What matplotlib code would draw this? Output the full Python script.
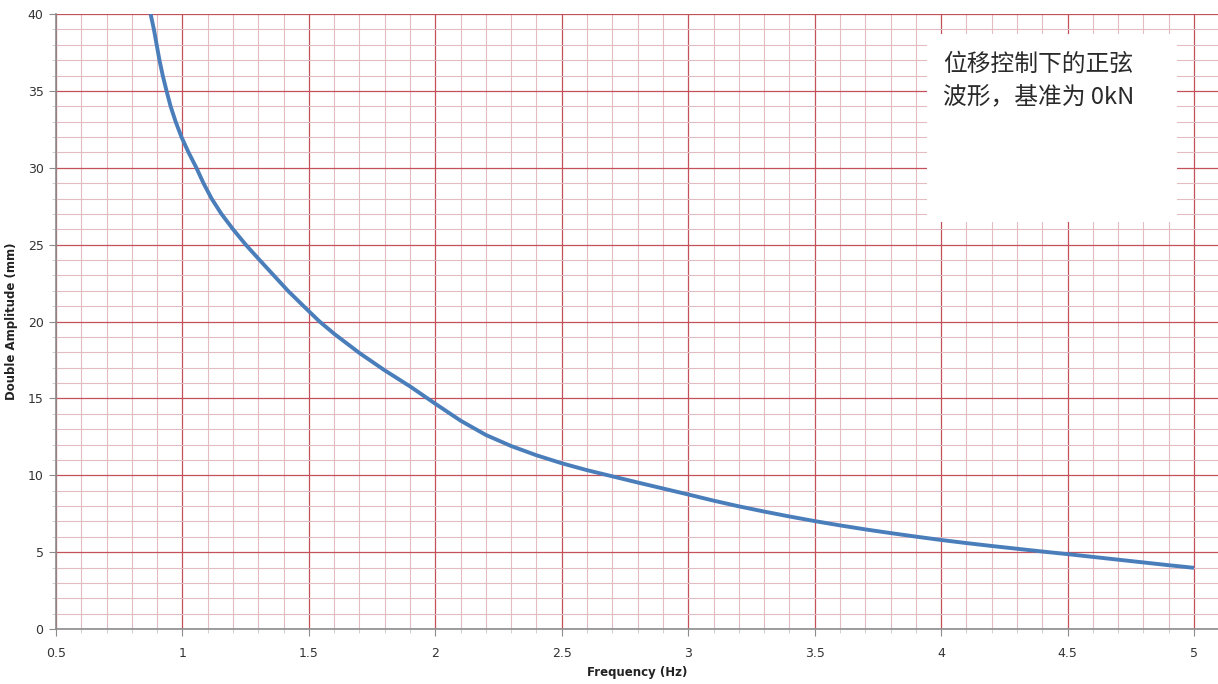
import numpy as np
import matplotlib as mpl
import matplotlib.pyplot as plt
from matplotlib.ticker import MultipleLocator
from matplotlib.patches import Rectangle

# Curve values
freq=[0.874,0.887,0.898,0.909,0.922,0.937,0.953,0.973,0.996,1.024,1.055,1.083,
      1.115,1.154,1.2,1.25,1.305,1.361,1.417,1.479,1.542,1.6,1.7,1.8,1.9,
      2.0,2.1,2.2,2.3,2.4,2.5,2.6,2.7,2.8,2.9,3.0,3.1,3.2,3.3,3.4,3.5,
      3.6,3.7,3.8,3.9,4.0,4.1,4.2,4.3,4.4,4.5,4.6,4.7,4.8,4.9,5.0]
amp=[40,39,38,37,36,35,34,33,32,31,30,29,
     28,27,26,25,24,23,22,21,20,19.2,17.95,16.82,15.78,
     14.65,13.55,12.62,11.9,11.3,10.78,10.33,9.93,9.53,9.14,8.75,8.35,7.98,7.64,7.32,7.02,
     6.74,6.48,6.24,6.01,5.79,5.59,5.40,5.22,5.04,4.87,4.69,4.51,4.33,4.15,3.98]

xticks=[0.5,1,1.5,2,2.5,3,3.5,4,4.5,5]
xticklbs=['0.5','1','1.5','2','2.5','3','3.5','4','4.5','5']
yticks=[0,5,10,15,20,25,30,35,40]
note='位移控制下的正弦\n波形，基准为 0kN'

mpl.rc('xtick',labelsize=9)
mpl.rc('ytick',labelsize=9)
majclr='#c4505a'; minclr='#e3bcc1'; spclr='#8c8c8c'

fig=plt.figure(figsize=(12.18,6.84),dpi=100)
ax=fig.add_axes([0.046,0.0804,0.954,0.8991])
ax.set_xlim(0.5,5.095)
ax.set_ylim(0,40)
ax.xaxis.set_minor_locator(MultipleLocator(0.1))
ax.yaxis.set_minor_locator(MultipleLocator(1))
ax.set_xticks(xticks)
ax.set_xticklabels(xticklbs)
ax.set_yticks(yticks)
ax.grid(which='minor',color=minclr,lw=0.8,zorder=0)
ax.grid(which='major',color=majclr,lw=0.9,zorder=0)
ax.set_axisbelow(True)
for s in ['top','right']:
    ax.spines[s].set_visible(False)
for s in ['left','bottom']:
    ax.spines[s].set_color(spclr)
    ax.spines[s].set_linewidth(1.2)
ax.tick_params(which='major',direction='out',length=5,color=spclr,labelcolor='#333333',pad=8)
ax.tick_params(which='minor',direction='out',length=3,color='#c8c8c8')
ax.tick_params(axis='y',pad=4)

ax.plot(freq,amp,color='#4a7ebb',lw=2.8,solid_capstyle='butt',solid_joinstyle='round',zorder=3)

ax.set_xlabel('Frequency (Hz)',fontsize=8.5,fontweight='bold',color='#222222',labelpad=4)
ax.set_ylabel('Double Amplitude (mm)',fontsize=8.5,fontweight='bold',color='#222222',labelpad=7)

# white note box
ax.add_patch(Rectangle((0.7493,0.6623),0.2151,0.3052,transform=ax.transAxes,
                       facecolor='white',edgecolor='none',zorder=4))
ax.text(0.7636,0.937,note,transform=ax.transAxes,ha='left',va='top',fontsize=17.1,
        linespacing=1.6,color='#2a2a2a',family=['Noto Sans CJK SC','DejaVu Sans'],zorder=5)

fig.savefig('out.png',dpi=100)
plt.close()
